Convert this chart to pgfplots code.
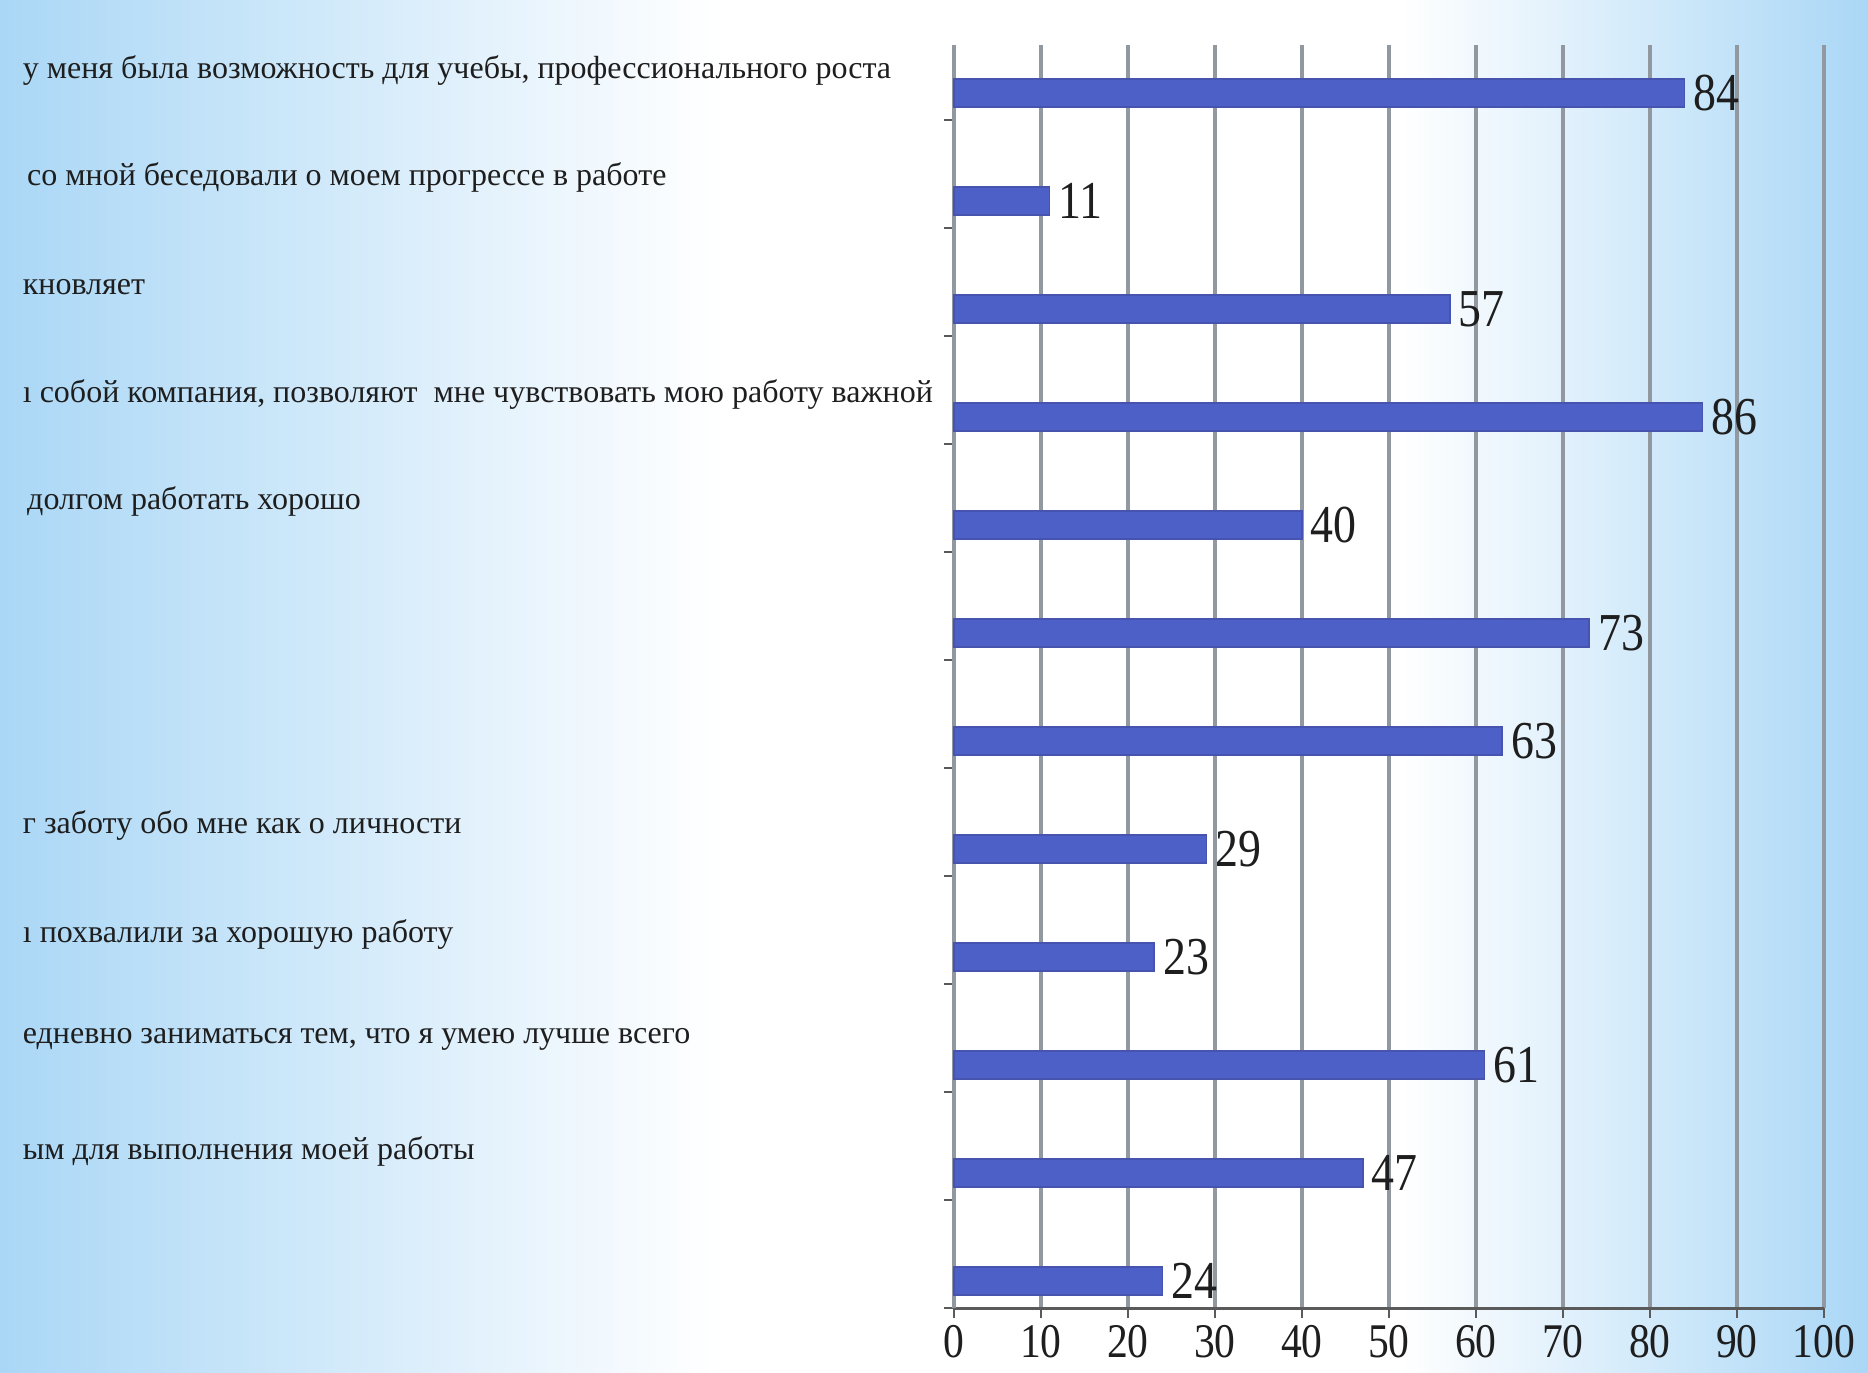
\documentclass[border=0pt]{standalone}
\usepackage{fontspec}
\setmainfont{Liberation Serif}
\newfontfamily\condserif[FakeStretch=0.86]{Liberation Serif}
\usepackage{pgfplots}
\pgfplotsset{compat=1.18}
\definecolor{barblue}{RGB}{76,96,200}
\definecolor{bardark}{RGB}{70,84,175}
\definecolor{gridgray}{RGB}{145,152,160}
\definecolor{bgblue}{RGB}{170,215,246}
\definecolor{txt}{RGB}{30,30,30}
\begin{document}
\begin{tikzpicture}
\useasboundingbox (0,0) rectangle (560.4pt,411.9pt);
\shade[left color=bgblue, right color=white] (0,0) rectangle (215pt,411.9pt);
\fill[white] (215pt,0) rectangle (420pt,411.9pt);
\shade[left color=white, right color=bgblue] (420pt,0) rectangle (560.4pt,411.9pt);
\begin{axis}[
  at={(286.2pt,19.5pt)}, anchor=south west,
  scale only axis, width=261pt, height=378.9pt,
  xmin=0, xmax=100, ymin=0.306, ymax=12,
  y dir=reverse,
  clip=false,
  xtick={0,10,...,100},
  ytick={1,2,...,12}, yticklabels={},
  xmajorgrids, major grid style={gridgray, line width=1.1pt},
  axis x line*=bottom, axis y line*=left,
  x axis line style={draw={rgb,255:red,90;green,90;blue,90}, line width=0.9pt},
  y axis line style={draw=gridgray, line width=1.1pt},
  tick style={draw={rgb,255:red,90;green,90;blue,90}, line width=0.6pt},
  tick align=outside, major tick length=3pt,
  /pgf/number format/assume math mode=true,
  ticklabel style={font=\condserif\fontsize{14.5}{16}\selectfont, text=txt},
  xticklabel style={yshift=0pt, inner sep=2pt},
  xbar, bar width=0.26,
  nodes near coords,
  every node near coord/.append style={font=\condserif\fontsize{16}{18}\selectfont, text=txt, inner sep=2.5pt},
]
\addplot[fill=barblue, draw=bardark, line width=0.4pt] coordinates {
(84,0.75) (11,1.75) (57,2.75) (86,3.75) (40,4.75) (73,5.75)
(63,6.75) (29,7.75) (23,8.75) (61,9.75) (47,10.75) (24,11.75)
};
\begin{scope}[every node/.style={anchor=west, inner sep=0pt, font=\fontsize{9.6}{11}\selectfont, text=txt}]
\node at (axis cs:-107.1,0.54) {у меня была возможность для учебы, профессионального роста};
\node at (axis cs:-106.6,1.53) {со мной беседовали о моем прогрессе в работе};
\node at (axis cs:-107.1,2.55) {кновляет};
\node at (axis cs:-107.1,3.54) {ı собой компания, позволяют\ \ мне чувствовать мою работу важной};
\node at (axis cs:-106.6,4.53) {долгом работать хорошо};
\node at (axis cs:-107.1,7.53) {г заботу обо мне как о личности};
\node at (axis cs:-107.1,8.54) {ı похвалили за хорошую работу};
\node at (axis cs:-107.1,9.51) {едневно заниматься тем, что я умею лучше всего};
\node at (axis cs:-107.1,10.55) {ым для выполнения моей работы};
\end{scope}
\end{axis}
\end{tikzpicture}
\end{document}
